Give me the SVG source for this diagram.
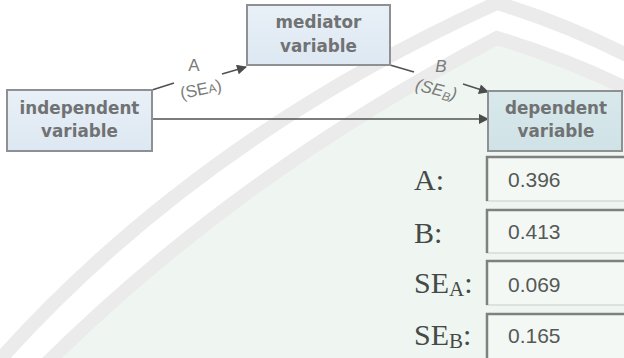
<svg xmlns="http://www.w3.org/2000/svg" width="624" height="358" viewBox="0 0 624 358">
  <defs>
    <linearGradient id="nodeFill" x1="0" y1="0" x2="0" y2="1">
      <stop offset="0" stop-color="#e9f0f7"/>
      <stop offset="1" stop-color="#dde8f2"/>
    </linearGradient>
    <linearGradient id="outFill" x1="0" y1="0" x2="0" y2="1">
      <stop offset="0" stop-color="#d9e9ec"/>
      <stop offset="1" stop-color="#cfe2e6"/>
    </linearGradient>
    <marker id="arrow" viewBox="0 0 10 10" refX="9" refY="5" markerWidth="12" markerHeight="10" markerUnits="userSpaceOnUse" orient="auto">
      <path d="M0,0 L10,5 L0,10 Z" fill="#4a4d4b"/>
    </marker>
    <style>
      .node rect { stroke: #8e9194; stroke-width: 2; }
      .node text { font-family: "DejaVu Sans", Verdana, sans-serif; font-weight: bold; font-size: 16.8px; fill: #707273; text-anchor: middle; }
      .conn { fill: none; stroke: #4f5250; stroke-width: 1.6; }
      .elabel { font-family: "Liberation Sans", Arial, sans-serif; font-size: 17px; fill: #7a7c7b; text-anchor: middle; }
      .vbox { fill: #f3f8f4; }
      .vhi { fill: none; stroke: #7e817f; stroke-width: 2.5; }
      .vlo { fill: none; stroke: #d6dbd7; stroke-width: 1.5; }
      .vlabel { font-family: "Liberation Serif", "Times New Roman", serif; font-size: 30px; fill: #454a47; }
      .vnum { font-family: "Liberation Sans", Arial, sans-serif; font-size: 21px; fill: #555957; }
      .band { fill: none; stroke: #ebebeb; stroke-width: 14; }
    </style>
  </defs>

  <!-- page background with faint emblem -->
  <rect width="624" height="358" fill="#ffffff"/>
  <path d="M40,370 Q235,175 497,38 Q570,60 640,95 L640,370 Z" fill="#eff6f1"/>
  <path class="band" d="M-5,365 Q195,140 497,3 Q570,25 640,62"/>
  <path class="band" d="M40,370 Q235,175 497,38 Q570,60 640,95"/>

  <!-- connectors -->
  <g id="connectors">
    <path class="conn" d="M152,119 L488,119" marker-end="url(#arrow)"/>
    <path class="conn" d="M152,90 L174,83"/>
    <path class="conn" d="M222,74 L246,67" marker-end="url(#arrow)"/>
    <path class="conn" d="M390,65 L414,72"/>
    <path class="conn" d="M463,84 L488,92" marker-end="url(#arrow)"/>
    <text class="elabel" x="194" y="71">A</text>
    <text class="elabel" x="201" y="95" transform="rotate(-12 201 90)">(SE<tspan font-size="12">A</tspan>)</text>
    <text class="elabel" x="441" y="72" font-style="italic">B</text>
    <text class="elabel" x="436" y="95" font-style="italic" transform="rotate(14 436 90)">(SE<tspan font-size="12" dy="3">B</tspan><tspan dy="-3">)</tspan></text>
  </g>

  <!-- nodes -->
  <g id="independent" class="node">
    <rect x="7" y="90" width="145" height="61" fill="url(#nodeFill)"/>
    <text x="79.5" y="114">independent</text>
    <text x="79.5" y="137">variable</text>
  </g>
  <g id="mediator" class="node">
    <rect x="247" y="5" width="143" height="60" fill="url(#nodeFill)"/>
    <text x="318.5" y="28">mediator</text>
    <text x="318.5" y="52">variable</text>
  </g>
  <g id="dependent" class="node">
    <rect x="488" y="91" width="134" height="60" fill="url(#outFill)"/>
    <text x="556" y="114">dependent</text>
    <text x="556" y="137">variable</text>
  </g>

  <!-- coefficient readouts -->
  <g id="value-a">
    <text class="vlabel" x="414" y="190">A:</text>
    <rect class="vbox" x="486" y="156" width="140" height="45"/>
    <path class="vlo" d="M486,201 H626"/>
    <path class="vhi" d="M487,201 V157 H626"/>
    <text class="vnum" x="508" y="187">0.396</text>
  </g>
  <g id="value-b">
    <text class="vlabel" x="414" y="243">B:</text>
    <rect class="vbox" x="486" y="209" width="140" height="44"/>
    <path class="vlo" d="M486,253 H626"/>
    <path class="vhi" d="M487,253 V210 H626"/>
    <text class="vnum" x="508" y="239">0.413</text>
  </g>
  <g id="value-sea">
    <text class="vlabel" x="414" y="293">SE<tspan font-size="21" dy="3">A</tspan><tspan dy="-3">:</tspan></text>
    <rect class="vbox" x="486" y="260" width="140" height="45"/>
    <path class="vlo" d="M486,305 H626"/>
    <path class="vhi" d="M487,305 V261 H626"/>
    <text class="vnum" x="508" y="292">0.069</text>
  </g>
  <g id="value-seb">
    <text class="vlabel" x="414" y="345">SE<tspan font-size="21" dy="3">B</tspan><tspan dy="-3">:</tspan></text>
    <rect class="vbox" x="486" y="313" width="140" height="47"/>
    <path class="vhi" d="M487,360 V314 H626"/>
    <text class="vnum" x="508" y="343">0.165</text>
  </g>
</svg>
